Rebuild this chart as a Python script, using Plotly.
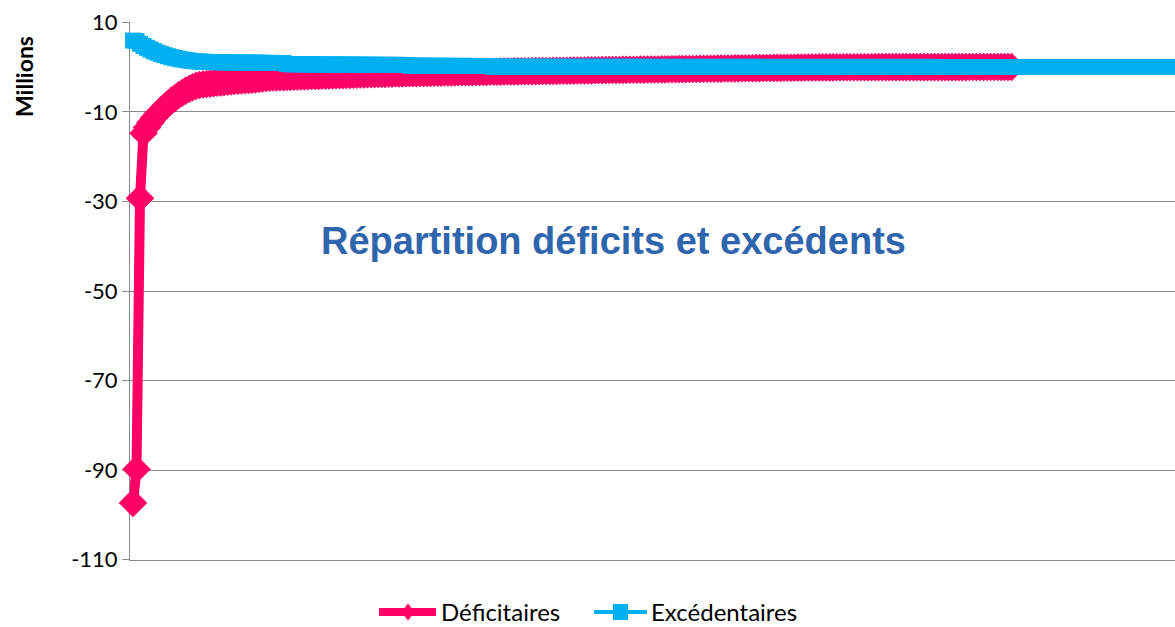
import plotly.graph_objects as go

# valeurs (en millions), triées
deficitaires = [
    -97.3, -89.8, -29.3, -14.8, -13.5, -12.4, -11.4, -10.5, -9.7, -8.9,
    -8.2, -7.5, -6.9, -6.3, -5.8, -5.3, -4.9, -4.5, -4.2, -4.0,
    -3.9, -3.8, -3.7, -3.6, -3.5, -3.45, -3.4, -3.3, -3.2, -3.1,
    -3.05, -3.0, -2.95, -2.9, -2.85, -2.75, -2.65, -2.55, -2.45, -2.4,
    -2.35, -2.32, -2.3, -2.27, -2.24, -2.2, -2.17, -2.14, -2.11, -2.08,
    -2.05, -2.02, -2.0, -1.98, -1.95, -1.93, -1.9, -1.88, -1.85, -1.83,
    -1.8, -1.78, -1.76, -1.73, -1.71, -1.68, -1.66, -1.63, -1.61, -1.58,
    -1.56, -1.54, -1.52, -1.5, -1.48, -1.46, -1.44, -1.42, -1.4, -1.39,
    -1.37, -1.36, -1.34, -1.33, -1.31, -1.3, -1.28, -1.27, -1.25, -1.24,
    -1.22, -1.21, -1.19, -1.18, -1.17, -1.15, -1.14, -1.13, -1.11, -1.1,
    -1.09, -1.08, -1.06, -1.05, -1.04, -1.03, -1.01, -1.0, -0.99, -0.98,
    -0.97, -0.96, -0.95, -0.94, -0.93, -0.92, -0.91, -0.9, -0.89, -0.88,
    -0.86, -0.85, -0.84, -0.83, -0.82, -0.81, -0.8, -0.79, -0.78, -0.77,
    -0.76, -0.74, -0.73, -0.72, -0.7, -0.69, -0.68, -0.67, -0.66, -0.65,
    -0.64, -0.63, -0.62, -0.61, -0.6, -0.59, -0.58, -0.57, -0.56, -0.55,
    -0.54, -0.53, -0.52, -0.51, -0.5, -0.49, -0.48, -0.47, -0.46, -0.45,
    -0.44, -0.43, -0.41, -0.4, -0.39, -0.38, -0.37, -0.36, -0.35, -0.34,
    -0.33, -0.32, -0.31, -0.3, -0.29, -0.28, -0.27, -0.26, -0.25, -0.24,
    -0.23, -0.22, -0.21, -0.2, -0.19, -0.18, -0.17, -0.16, -0.16, -0.15,
    -0.14, -0.13, -0.12, -0.12, -0.11, -0.1, -0.09, -0.09, -0.08, -0.07,
    -0.07, -0.06, -0.06, -0.05, -0.05, -0.05, -0.04, -0.04, -0.04, -0.04,
    -0.04, -0.04, -0.03, -0.03, -0.03, -0.03, -0.03, -0.03, -0.03, -0.03,
    -0.03, -0.03, -0.03, -0.02, -0.02, -0.02, -0.02, -0.02, -0.02, -0.02,
    -0.02, -0.02, -0.02, -0.02, -0.02, -0.02, -0.02, -0.02, -0.02, -0.01,
    -0.01, -0.01, -0.01, -0.01, -0.01, -0.01, -0.01, -0.01, -0.01, -0.01,
    -0.01, -0.01,
]

excedentaires = [
    5.9, 5.8, 5.2, 4.7, 4.3, 3.9, 3.5, 3.2, 2.9, 2.65,
    2.4, 2.2, 2.0, 1.85, 1.7, 1.55, 1.45, 1.35, 1.28, 1.22,
    1.18, 1.15, 1.12, 1.1, 1.08, 1.06, 1.05, 1.04, 1.03, 1.02,
    1.01, 1.0, 0.99, 0.98, 0.97, 0.96, 0.95, 0.94, 0.93, 0.92,
    0.91, 0.9, 0.89, 0.88, 0.65, 0.63, 0.62, 0.61, 0.6, 0.6,
    0.59, 0.58, 0.58, 0.57, 0.57, 0.56, 0.56, 0.55, 0.55, 0.54,
    0.54, 0.53, 0.53, 0.52, 0.52, 0.51, 0.51, 0.5, 0.5, 0.5,
    0.49, 0.49, 0.48, 0.48, 0.48, 0.47, 0.47, 0.46, 0.46, 0.3,
    0.3, 0.29, 0.29, 0.28, 0.28, 0.28, 0.27, 0.27, 0.27, 0.26,
    0.26, 0.26, 0.25, 0.25, 0.25, 0.24, 0.24, 0.24, 0.23, 0.23,
    0.23, 0.22, 0.22, 0.06, 0.06, 0.06, 0.06, 0.05, 0.05, 0.05,
    0.05, 0.05, 0.05, 0.05, 0.05, 0.05, 0.05, 0.05, 0.05, 0.05,
    0.05, 0.05, 0.05, 0.05, 0.04, 0.04, 0.04, 0.04, 0.04, 0.04,
    0.04, 0.04, 0.04, 0.04, 0.04, 0.04, 0.04, 0.04, 0.04, 0.04,
    0.04, 0.04, 0.04, 0.04, 0.04, 0.04, 0.04, 0.04, 0.03, 0.03,
    0.03, 0.03, 0.03, 0.03, 0.03, 0.03, 0.03, 0.03, 0.03, 0.03,
    0.03, 0.03, 0.03, 0.03, 0.03, 0.03, 0.03, 0.03, 0.03, 0.03,
    0.03, 0.03, 0.03, 0.03, 0.03, 0.03, 0.03, 0.03, 0.03, 0.03,
    0.02, 0.02, 0.02, 0.02, 0.02, 0.02, 0.02, 0.02, 0.02, 0.02,
    0.02, 0.02, 0.02, 0.02, 0.02, 0.02, 0.02, 0.02, 0.02, 0.02,
    0.02, 0.02, 0.02, 0.02, 0.02, 0.02, 0.02, 0.02, 0.02, 0.02,
    0.02, 0.02, 0.02, 0.02, 0.02, 0.02, 0.02, 0.02, 0.02, 0.02,
    0.02, 0.02, 0.02, 0.02, 0.02, 0.02, 0.02, 0.02, 0.02, 0.02,
    0.01, 0.01, 0.01, 0.01, 0.01, 0.01, 0.01, 0.01, 0.01, 0.01,
    0.01, 0.01, 0.01, 0.01, 0.01, 0.01, 0.01, 0.01, 0.01, 0.01,
    0.01, 0.01, 0.01, 0.01, 0.01, 0.01, 0.01, 0.01, 0.01, 0.01,
    0.01, 0.01, 0.01, 0.01, 0.01, 0.01, 0.01, 0.01, 0.01, 0.01,
    0.01, 0.01, 0.01, 0.01, 0.01, 0.01, 0.01, 0.01, 0.01, 0.01,
    0.01, 0.01, 0.01, 0.01, 0.01, 0.01, 0.01, 0.01, 0.01, 0.01,
    0.01, 0.01, 0.01, 0.01, 0.01, 0.01, 0.01, 0.01, 0.01,
]

y_ticks = [10, -10, -30, -50, -70, -90, -110]

rose = "#ff0066"
bleu = "#00b0f0"
gris = "#8a8a8a"

# zone de tracé en pixels (comme Excel)
G, D, H, B = 130, 1175, 22, 560


def px_x(p):
    return (p - G) / (D - G)


def px_y(p):
    return (B - p) / (B - H)


figure = go.Figure()
figure.add_trace(go.Scatter(
    x=list(range(len(deficitaires))), y=deficitaires, name="Déficitaires",
    mode="lines+markers",
    line=dict(color=rose, width=10),
    marker=dict(symbol="diamond", size=22, color=rose),
    cliponaxis=False, showlegend=False,
))
figure.add_trace(go.Scatter(
    x=list(range(len(excedentaires))), y=excedentaires, name="Excédentaires",
    mode="lines+markers",
    line=dict(color=bleu, width=5),
    marker=dict(symbol="square", size=16, color=bleu),
    cliponaxis=False, showlegend=False,
))

# légende dessinée à la main (trait long façon Excel)
legende_y = 612
shapes = [
    dict(type="line", xref="paper", yref="paper",
         x0=px_x(379), x1=px_x(436), y0=px_y(legende_y), y1=px_y(legende_y),
         line=dict(color=rose, width=8)),
    dict(type="path", xref="paper", yref="paper",
         path="M {} {} L {} {} L {} {} L {} {} Z".format(
             px_x(402), px_y(legende_y), px_x(408), px_y(legende_y - 8),
             px_x(414), px_y(legende_y), px_x(408), px_y(legende_y + 8)),
         fillcolor=rose, line=dict(color=rose, width=1)),
    dict(type="line", xref="paper", yref="paper",
         x0=px_x(594), x1=px_x(647), y0=px_y(legende_y), y1=px_y(legende_y),
         line=dict(color=bleu, width=4)),
    dict(type="rect", xref="paper", yref="paper",
         x0=px_x(613), x1=px_x(628), y0=px_y(legende_y - 8), y1=px_y(legende_y + 8),
         fillcolor=bleu, line=dict(color=bleu, width=0)),
]

figure.update_layout(
    width=1175, height=627,
    margin=dict(l=G, r=1175 - D, t=H, b=627 - B),
    paper_bgcolor="white", plot_bgcolor="white",
    font=dict(family="Lato", size=22, color="black"),
    showlegend=False,
    xaxis=dict(
        range=[-0.857, 297.71],
        showgrid=False, zeroline=False, showticklabels=False,
        showline=True, linecolor=gris, linewidth=1, layer="below traces",
        automargin=False,
    ),
    yaxis=dict(
        range=[-110.05, 10.05],
        tickvals=y_ticks, ticktext=[str(v) for v in y_ticks],
        showgrid=True, gridcolor=gris, gridwidth=1,
        zeroline=False,
        showline=True, linecolor=gris, linewidth=1,
        ticks="outside", ticklen=7, tickcolor=gris,
        tickfont=dict(family="Lato", size=22, color="black"),
        layer="below traces",
        automargin=False,
    ),
    shapes=shapes,
    annotations=[
        dict(
            text="<b>Répartition déficits et excédents</b>",
            xref="paper", yref="paper", x=px_x(613), y=px_y(241),
            xanchor="center", yanchor="middle",
            showarrow=False,
            font=dict(family="Liberation Sans", size=38, color="#2f65ad"),
        ),
        dict(
            text="<b>Millions</b>",
            xref="paper", yref="paper", x=px_x(24), y=px_y(77),
            xanchor="center", yanchor="middle",
            showarrow=False, textangle=-90,
            font=dict(family="Lato", size=23, color="black"),
        ),
        dict(
            text="Déficitaires",
            xref="paper", yref="paper", x=px_x(440), y=px_y(626.5),
            xanchor="left", yanchor="bottom", borderpad=0,
            showarrow=False,
            font=dict(family="Lato", size=24, color="black"),
        ),
        dict(
            text="Excédentaires",
            xref="paper", yref="paper", x=px_x(650), y=px_y(626.5),
            xanchor="left", yanchor="bottom", borderpad=0,
            showarrow=False,
            font=dict(family="Lato", size=24, color="black"),
        ),
    ],
)

# pas de marge autour du graphique dans la page, pas de barre d'outils
figure.write_html(
    "out.html",
    config={"displayModeBar": False},
    post_script="document.body.style.margin = '0';",
)
